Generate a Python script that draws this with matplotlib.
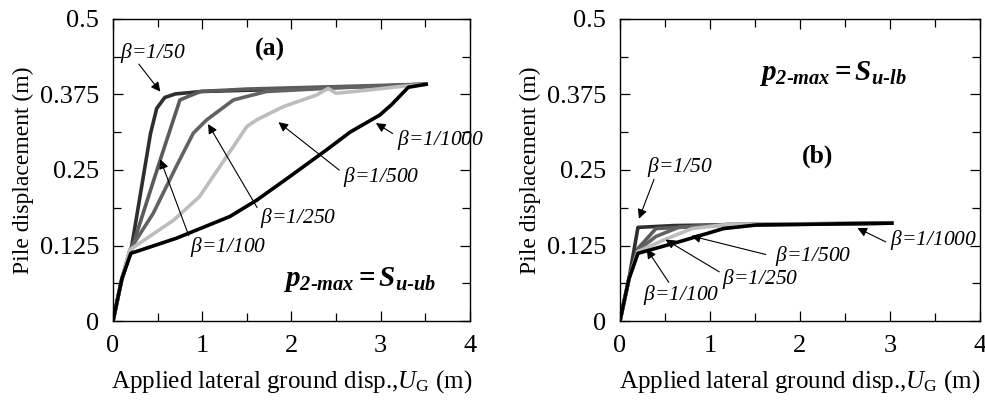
import matplotlib
matplotlib.use("Agg")
import matplotlib.pyplot as plt
from matplotlib.ticker import MultipleLocator

plt.rcParams["font.family"] = "Liberation Serif"
plt.rcParams["mathtext.fontset"] = "custom"
plt.rcParams["mathtext.rm"] = "Liberation Serif"
plt.rcParams["mathtext.it"] = "Liberation Serif:italic"
plt.rcParams["mathtext.bf"] = "Liberation Serif:bold"
plt.rcParams["mathtext.bfit"] = "Liberation Serif:bold:italic"

labels = ["1/50", "1/100", "1/250", "1/500", "1/1000"]
colors = ["#2e2e2e", "#5a5a5a", "#626262", "#bdbdbd", "#000000"]

# panel (a): p2-max = Su-ub
a_x = {
    "1/50": [0, 0.1, 0.2, 0.42, 0.49, 0.58, 0.7, 1.0, 2.0, 3.0, 3.5],
    "1/100": [0, 0.1, 0.2, 0.53, 0.75, 0.98, 1.5, 2.5, 3.5],
    "1/250": [0, 0.1, 0.19, 0.45, 0.71, 0.9, 1.05, 1.35, 1.72, 2.5, 3.5],
    "1/500": [0, 0.1, 0.19, 0.68, 0.97, 1.35, 1.5, 1.61, 1.91, 2.28, 2.41, 2.5, 2.84, 3.2, 3.5],
    "1/1000": [0, 0.1, 0.2, 0.71, 1.31, 1.61, 1.98, 2.39, 2.66, 2.99, 3.12, 3.31, 3.51],
}
a_y = {
    "1/50": [0, 0.07, 0.115, 0.31, 0.352, 0.37, 0.376, 0.38, 0.384, 0.389, 0.392],
    "1/100": [0, 0.07, 0.115, 0.267, 0.366, 0.38, 0.384, 0.388, 0.392],
    "1/250": [0, 0.07, 0.118, 0.178, 0.256, 0.311, 0.333, 0.366, 0.38, 0.386, 0.392],
    "1/500": [0, 0.07, 0.118, 0.167, 0.206, 0.289, 0.322, 0.333, 0.355, 0.374, 0.385, 0.377, 0.382, 0.388, 0.392],
    "1/1000": [0, 0.07, 0.112, 0.137, 0.173, 0.2, 0.239, 0.283, 0.313, 0.341, 0.358, 0.387, 0.392],
}

# panel (b): p2-max = Su-lb
b_x = {
    "1/50": [0, 0.1, 0.2, 0.6, 1.5, 3.02],
    "1/100": [0, 0.1, 0.2, 0.4, 1.0, 2.0, 3.02],
    "1/250": [0, 0.1, 0.2, 0.4, 0.65, 1.2, 3.02],
    "1/500": [0, 0.1, 0.2, 0.5, 0.8, 1.2, 3.02],
    "1/1000": [0, 0.1, 0.2, 0.7, 1.15, 1.52, 3.02],
}
b_y = {
    "1/50": [0, 0.07, 0.155, 0.158, 0.16, 0.162],
    "1/100": [0, 0.07, 0.12, 0.153, 0.158, 0.16, 0.162],
    "1/250": [0, 0.07, 0.117, 0.14, 0.155, 0.16, 0.162],
    "1/500": [0, 0.07, 0.115, 0.135, 0.153, 0.16, 0.162],
    "1/1000": [0, 0.07, 0.112, 0.133, 0.153, 0.159, 0.162],
}

# annotation text position / arrow tail / arrow head (data coords)
a_notes = {
    "1/50": ((0.08, 0.443), (0.27, 0.429), (0.55, 0.376)),
    "1/100": ((0.86, 0.123), (0.86, 0.137), (0.52, 0.272)),
    "1/250": ((1.65, 0.17), (1.63, 0.184), (1.05, 0.33)),
    "1/500": ((2.58, 0.239), (2.56, 0.247), (1.83, 0.332)),
    "1/1000": ((3.18, 0.30), (3.16, 0.308), (2.92, 0.33)),
}
b_notes = {
    "1/50": ((0.3, 0.255), (0.39, 0.239), (0.2, 0.165)),
    "1/100": ((0.26, 0.043), (0.56, 0.06), (0.28, 0.123)),
    "1/250": ((1.13, 0.07), (1.13, 0.079), (0.48, 0.137)),
    "1/500": ((1.72, 0.107), (1.65, 0.109), (0.76, 0.142)),
    "1/1000": ((3.0, 0.134), (2.98, 0.129), (2.61, 0.156)),
}


def style_axes(ax):
    ax.set_xlim(0, 4)
    ax.set_ylim(0, 0.5)
    ax.xaxis.set_major_locator(MultipleLocator(1))
    ax.xaxis.set_minor_locator(MultipleLocator(0.5))
    ax.yaxis.set_major_locator(MultipleLocator(0.125))
    ax.yaxis.set_minor_locator(MultipleLocator(0.0625))
    ax.yaxis.set_major_formatter(plt.FuncFormatter(lambda v, p: f"{v:g}"))
    ax.tick_params(which="both", direction="in", top=True, right=True, labelsize=19, pad=10)
    ax.tick_params(which="major", length=7, width=0.9)
    ax.tick_params(which="minor", length=6, width=0.9)
    for s in ax.spines.values():
        s.set_linewidth(1.0)
    ax.set_xlabel(r"Applied lateral ground disp.,$\mathit{U}_{\mathrm{G}}$ (m)", fontsize=18, labelpad=8)
    ax.set_ylabel("Pile displacement (m)", fontsize=17, labelpad=4)


def draw(ax, xs, ys, notes):
    for lab, c in zip(labels, colors):
        ax.plot(xs[lab], ys[lab], color=c, lw=2.6, solid_joinstyle="round")
    for lab in labels:
        txt, tail, head = notes[lab]
        ax.text(txt[0], txt[1], r"$\beta$=" + lab, fontsize=15.5, style="italic", va="center", ha="left")
        ax.annotate("", xy=head, xytext=tail,
                    arrowprops=dict(arrowstyle="-|>", color="black", lw=0.8, mutation_scale=14))


fig = plt.figure(figsize=(9.85, 4.05), dpi=100)
ax1 = fig.add_axes([0.1147, 0.2074, 0.3624, 0.7457])
ax2 = fig.add_axes([0.6294, 0.2074, 0.3655, 0.7457])

draw(ax1, a_x, a_y, a_notes)
draw(ax2, b_x, b_y, b_notes)
style_axes(ax1)
style_axes(ax2)

ax1.text(1.76, 0.449, "(a)", fontsize=18.5, fontweight="bold", ha="center", va="center")
ax2.text(2.2, 0.272, "(b)", fontsize=18.5, fontweight="bold", ha="center", va="center")
ax1.text(1.9, 0.068, r"$\mathbfit{p}_{\mathbfit{2}\text{-}\mathbfit{max}}\mathbf{=}\mathbfit{S}_{\mathbfit{u}\text{-}\mathbfit{ub}}$",
         fontsize=21, ha="left", va="center")
ax2.text(1.54, 0.41, r"$\mathbfit{p}_{\mathbfit{2}\text{-}\mathbfit{max}}\mathbf{=}\mathbfit{S}_{\mathbfit{u}\text{-}\mathbfit{lb}}$",
         fontsize=21, ha="left", va="center")

fig.savefig("out.png", dpi=100)
